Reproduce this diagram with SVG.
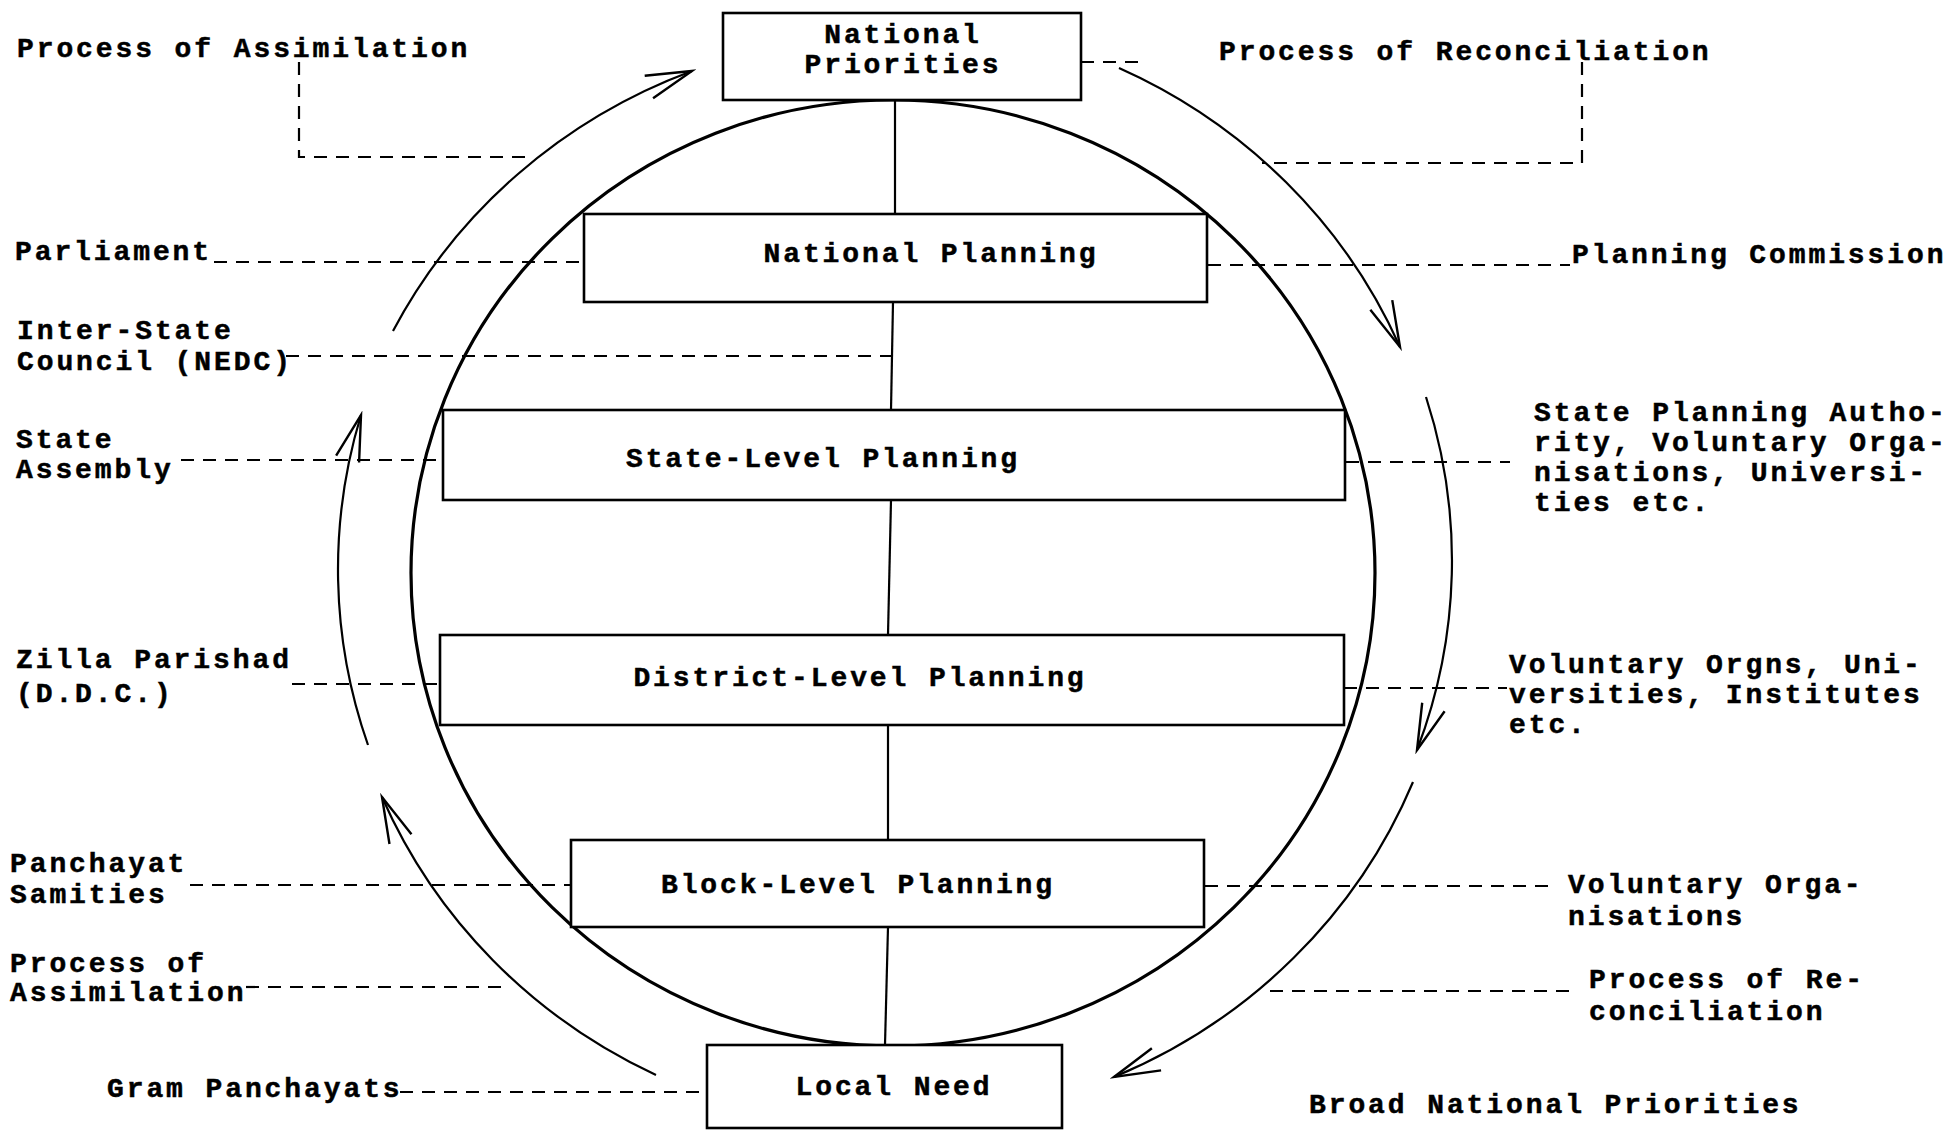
<svg xmlns="http://www.w3.org/2000/svg" width="1956" height="1132" viewBox="0 0 1956 1132">
  <style>
    text { font-family: "Liberation Mono", "Courier New", monospace; font-weight: bold; font-size: 28px; letter-spacing: 2.9px; fill: #000; stroke: #000; stroke-width: 0.5px; }
    .mid { text-anchor: middle; }
    .box { fill: #fff; stroke: #000; stroke-width: 2.6; }
    .ring { fill: none; stroke: #000; stroke-width: 3.2; }
    .link { fill: none; stroke: #000; stroke-width: 2.2; }
    .dash { fill: none; stroke: #000; stroke-width: 2.2; stroke-dasharray: 13 9; }
    .flow { fill: none; stroke: #000; stroke-width: 2.2; marker-end: url(#head); }
  </style>
  <defs>
    <marker id="head" markerUnits="userSpaceOnUse" viewBox="-52 -16 56 32" markerWidth="56" markerHeight="32" refX="0" refY="0" orient="auto">
      <path d="M-46,-12 L0,0 L-46,12" fill="none" stroke="#000" stroke-width="2.4"/>
    </marker>
  </defs>
  <rect width="1956" height="1132" fill="#fff"/>

  <!-- planning cycle ring -->
  <ellipse class="ring" cx="893" cy="573" rx="482" ry="473"/>

  <!-- connectors: hierarchy spine, dashed agency links and flow arcs -->
  <g id="connectors">
    <line class="link" x1="895" y1="100" x2="895" y2="215"/>
    <line class="link" x1="893" y1="302" x2="891" y2="410"/>
    <line class="link" x1="891" y1="500" x2="888" y2="635"/>
    <line class="link" x1="888" y1="725" x2="888" y2="840"/>
    <line class="link" x1="888" y1="927" x2="885" y2="1045"/>

    <polyline class="dash" points="299,62 299,157 530,157"/>
    <polyline class="dash" points="1582,62 1582,163 1262,163"/>
    <line class="dash" x1="1081" y1="62" x2="1142" y2="62"/>

    <line class="dash" x1="214" y1="262" x2="584" y2="262"/>
    <line class="dash" x1="286" y1="356" x2="893" y2="356"/>
    <line class="dash" x1="181" y1="460" x2="443" y2="460"/>
    <line class="dash" x1="292" y1="684" x2="440" y2="684"/>
    <line class="dash" x1="190" y1="885" x2="571" y2="885"/>
    <line class="dash" x1="246" y1="987" x2="510" y2="987"/>
    <line class="dash" x1="400" y1="1092" x2="707" y2="1092"/>

    <line class="dash" x1="1208" y1="265" x2="1570" y2="265"/>
    <line class="dash" x1="1346" y1="462" x2="1510" y2="462"/>
    <line class="dash" x1="1344" y1="688" x2="1507" y2="688"/>
    <line class="dash" x1="1205" y1="886" x2="1548" y2="886"/>
    <line class="dash" x1="1270" y1="991" x2="1573" y2="991"/>

    <path class="flow" d="M393,331 A562,545 0 0 1 692,71"/>
    <path class="flow" d="M368,745 A562,545 0 0 1 361,415"/>
    <path class="flow" d="M656,1075 A562,545 0 0 1 382,797"/>
    <path class="flow" d="M1119,68 A562,545 0 0 1 1400,347"/>
    <path class="flow" d="M1426,397 A562,545 0 0 1 1417,750"/>
    <path class="flow" d="M1413,782 A562,545 0 0 1 1114,1077"/>
  </g>

  <!-- planning levels -->
  <g id="national-priorities">
    <rect class="box" x="723" y="13" width="358" height="87"/>
    <text class="mid" x="903" y="43">National</text>
    <text class="mid" x="903" y="73">Priorities</text>
  </g>
  <g id="national-planning">
    <rect class="box" x="584" y="214" width="623" height="88"/>
    <text class="mid" x="931" y="262">National Planning</text>
  </g>
  <g id="state-planning">
    <rect class="box" x="443" y="410" width="902" height="90"/>
    <text class="mid" x="823" y="467">State-Level Planning</text>
  </g>
  <g id="district-planning">
    <rect class="box" x="440" y="635" width="904" height="90"/>
    <text class="mid" x="860" y="686">District-Level Planning</text>
  </g>
  <g id="block-planning">
    <rect class="box" x="571" y="840" width="633" height="87"/>
    <text class="mid" x="858" y="893">Block-Level Planning</text>
  </g>
  <g id="local-need">
    <rect class="box" x="707" y="1045" width="355" height="83"/>
    <text class="mid" x="894" y="1095">Local Need</text>
  </g>

  <!-- bodies on the assimilation side -->
  <g id="label-assimilation-top"><text x="17" y="57">Process of Assimilation</text></g>
  <g id="label-parliament"><text x="15" y="260">Parliament</text></g>
  <g id="label-inter-state">
    <text x="17" y="339">Inter-State</text>
    <text x="17" y="370">Council (NEDC)</text>
  </g>
  <g id="label-state-assembly">
    <text x="16" y="448">State</text>
    <text x="16" y="478">Assembly</text>
  </g>
  <g id="label-zilla">
    <text x="16" y="668">Zilla Parishad</text>
    <text x="16" y="702">(D.D.C.)</text>
  </g>
  <g id="label-samities">
    <text x="10" y="872">Panchayat</text>
    <text x="10" y="903">Samities</text>
  </g>
  <g id="label-assimilation-bottom">
    <text x="10" y="972">Process of</text>
    <text x="10" y="1001">Assimilation</text>
  </g>
  <g id="label-gram"><text x="107" y="1097">Gram Panchayats</text></g>

  <!-- bodies on the reconciliation side -->
  <g id="label-reconciliation-top"><text x="1219" y="60">Process of Reconciliation</text></g>
  <g id="label-commission"><text x="1572" y="263">Planning Commission</text></g>
  <g id="label-state-authority">
    <text x="1534" y="421">State Planning Autho-</text>
    <text x="1534" y="451">rity, Voluntary Orga-</text>
    <text x="1534" y="481">nisations, Universi-</text>
    <text x="1534" y="511">ties etc.</text>
  </g>
  <g id="label-district-bodies">
    <text x="1509" y="673">Voluntary Orgns, Uni-</text>
    <text x="1509" y="703">versities, Institutes</text>
    <text x="1509" y="733">etc.</text>
  </g>
  <g id="label-block-bodies">
    <text x="1568" y="893">Voluntary Orga-</text>
    <text x="1568" y="925">nisations</text>
  </g>
  <g id="label-reconciliation-bottom">
    <text x="1589" y="988">Process of Re-</text>
    <text x="1589" y="1020">conciliation</text>
  </g>
  <g id="label-broad"><text x="1309" y="1113">Broad National Priorities</text></g>
</svg>
